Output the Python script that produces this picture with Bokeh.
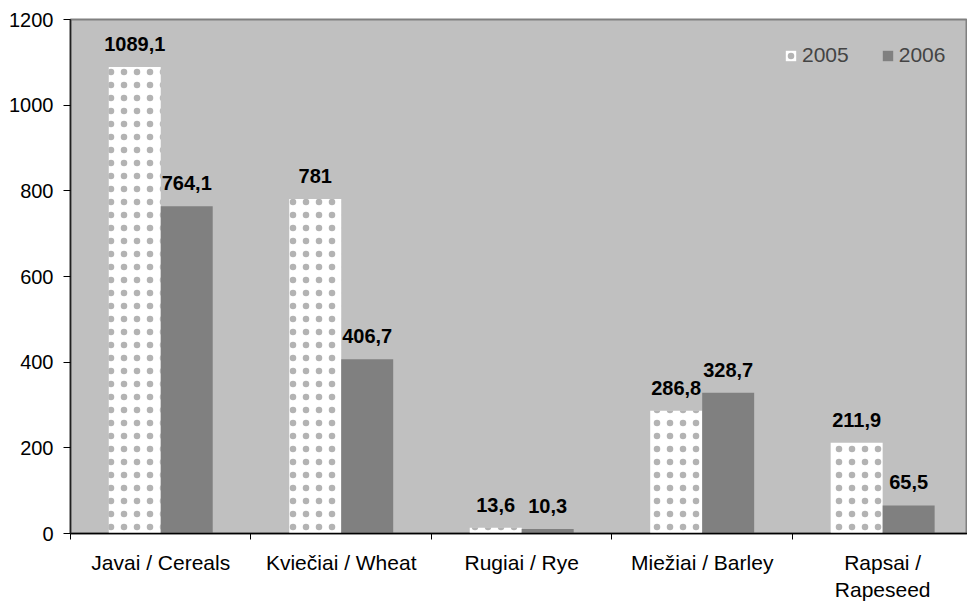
from bokeh.plotting import figure
from bokeh.models import (ColumnDataSource, FixedTicker, Range1d, Legend, LegendItem, LabelSet)
from bokeh.core.properties import value
from bokeh.embed import file_html
from bokeh.resources import INLINE

categories = ["Javai / Cereals", "Kviečiai / Wheat", "Rugiai / Rye", "Miežiai / Barley", "Rapsai /\nRapeseed"]
v2005 = [1089.1, 781, 13.6, 286.8, 211.9]
v2006 = [764.1, 406.7, 10.3, 328.7, 65.5]
years = ["2005", "2006"]
y_ticks = [0, 200, 400, 600, 800, 1000, 1200]

def fmt(v):
    s = ("%g" % v)
    return s.replace(".", ",")

n = len(categories)
centers = [i + 0.5 for i in range(n)]
bw = 0.288
x05 = [c - bw / 2 for c in centers]
x06 = [c + bw / 2 for c in centers]

src05 = ColumnDataSource(dict(x=x05, top=v2005, lab=[fmt(v) for v in v2005]))
src06 = ColumnDataSource(dict(x=x06, top=v2006, lab=[fmt(v) for v in v2006]))

p = figure(frame_width=897, frame_height=514, output_backend="svg", toolbar_location=None,
           x_range=Range1d(0, 4.97), y_range=Range1d(0, 1200),
           min_border_left=70, min_border_right=0, min_border_top=19, min_border_bottom=69)
p.background_fill_color = "#C0C0C0"
p.border_fill_color = "white"
p.outline_line_color = "#808080"
p.outline_line_width = 2
p.xgrid.visible = False
p.ygrid.visible = False

r05 = p.vbar(x="x", top="top", width=bw, source=src05, fill_color="white", line_color=None,
             hatch_pattern=".", hatch_color="#404040", hatch_scale=13, hatch_alpha=0.4)
r06 = p.vbar(x="x", top="top", width=bw, source=src06, fill_color="#808080", line_color=None)

for s in (src05, src06):
    p.add_layout(LabelSet(x="x", y="top", text="lab", source=s, text_align="center",
                          text_baseline="bottom", y_offset=16, text_font=value("Liberation Sans"),
                          text_font_style="bold", text_font_size="20px", text_color="black"))

# x axis
xa = p.xaxis[0]
xa.ticker = FixedTicker(ticks=centers, minor_ticks=list(range(n + 1)))
xa.major_label_overrides = {c: lab for c, lab in zip(centers, categories)}
xa.major_tick_out = 0
xa.major_tick_in = 0
xa.minor_tick_out = 6
xa.minor_tick_in = 0
xa.minor_tick_line_color = "black"
xa.axis_line_color = "black"
xa.axis_line_width = 1.5
xa.major_label_text_font = "Liberation Sans"
xa.major_label_text_font_size = "21px"
xa.major_label_text_color = "black"
xa.major_label_standoff = 11

ya = p.yaxis[0]
ya.ticker = FixedTicker(ticks=y_ticks)
ya.major_tick_out = 7
ya.major_tick_in = 0
ya.minor_tick_out = 0
ya.minor_tick_in = 0
ya.axis_line_color = "#202020"
ya.axis_line_width = 1.5
ya.major_label_text_font = "Liberation Sans"
ya.major_label_text_font_size = "20px"
ya.major_label_text_color = "black"
ya.major_label_standoff = 10

legend = Legend(items=[LegendItem(label=years[0], renderers=[r05]),
                       LegendItem(label=years[1], renderers=[r06])],
                orientation="horizontal", location=(714, 466),
                background_fill_alpha=0, border_line_color=None,
                glyph_width=13, glyph_height=13, label_standoff=5, spacing=32,
                padding=0, margin=0,
                label_text_font="Liberation Sans", label_text_font_size="21px")
p.add_layout(legend, "center")

open("out.html", "w").write(file_html(p, INLINE))
